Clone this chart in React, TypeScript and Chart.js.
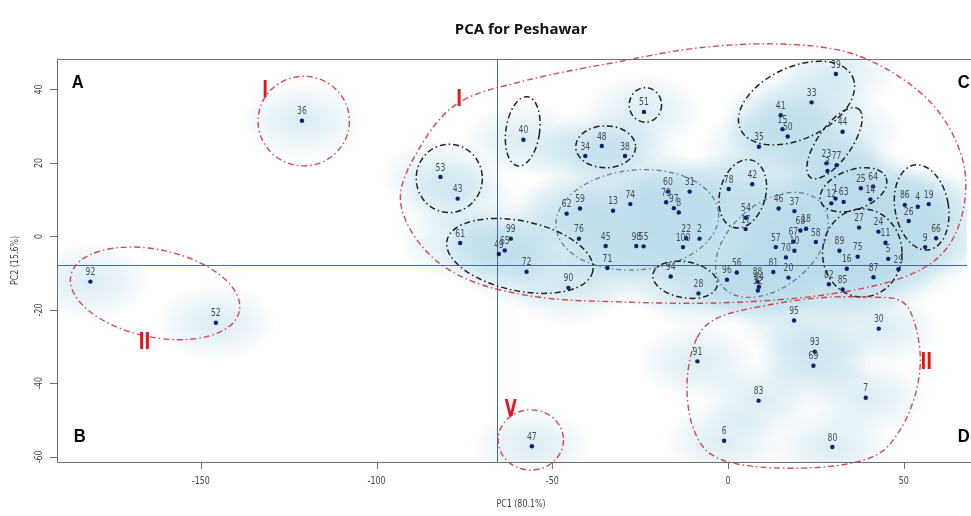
import { useEffect, useRef } from 'react';
import { Chart, registerables } from 'chart.js';

Chart.register(...registerables);

// ---------- data ----------
const sampleIds = ['36','92','52','40','51','48','34','38','53','43','62','59','13','74','60','79','97','8','31','76','45','98','55','71','22','2','100','90','94','28','61','99','65','49','72','39','33','41','15','50','35','44','23','77','3','78','42','54','17','46','37','68','18','57','70','67','10','58','81','20','56','96','88','84','32','89','75','16','82','85','87','5','11','29','9','66','86','4','19','26','24','27','25','64','14','12','1','63','95','30','91','93','69','83','7','47','6','80'];
const pc1 = [-121.2,-181.4,-145.7,-58.2,-23.9,-35.9,-40.6,-29.3,-81.8,-76.9,-45.9,-42.1,-32.7,-27.8,-17.1,-17.6,-15.4,-14.0,-10.9,-42.4,-34.8,-26.1,-24.0,-34.3,-11.9,-8.1,-12.8,-45.4,-16.3,-8.4,-76.2,-61.8,-63.5,-65.2,-57.3,30.7,23.8,15.0,15.5,17.0,8.8,32.6,28.0,30.9,28.3,0.2,6.9,5.1,5.0,14.4,18.9,20.6,22.2,13.6,16.5,18.6,18.9,25.0,12.9,17.2,2.5,-0.3,8.4,8.8,8.5,31.7,36.9,33.8,28.7,32.6,41.4,45.6,44.8,48.5,56.1,59.2,50.3,54.0,57.1,51.4,42.8,37.3,37.8,41.3,40.5,29.4,30.6,32.9,18.8,42.9,-8.7,24.7,24.3,8.7,39.2,-55.8,-1.1,29.7];
const pc2 = [31.5,-12.3,-23.5,26.3,33.9,24.6,21.9,21.9,16.2,10.3,6.2,7.6,7.0,8.8,12.2,9.3,7.7,6.5,12.2,-0.6,-2.6,-2.6,-2.7,-8.6,-0.5,-0.6,-2.9,-14.0,-10.9,-15.5,-1.8,-0.6,-3.8,-4.8,-9.6,44.2,36.5,33.0,29.2,27.2,24.4,28.5,19.9,19.4,17.8,12.9,14.2,5.1,2.0,7.6,6.9,1.6,2.1,-2.9,-5.7,-1.4,-3.9,-1.5,-9.7,-11.2,-9.8,-11.8,-12.3,-13.7,-14.7,-3.9,-5.5,-8.8,-13.0,-14.4,-11.1,-6.1,-1.7,-8.9,-2.9,-0.5,8.6,8.1,8.8,4.2,1.3,2.4,13.1,13.6,10.1,9.0,10.3,9.4,-22.9,-25.1,-34.0,-31.4,-35.2,-44.7,-43.9,-57.1,-55.6,-57.3];

const xTicks = [-150, -100, -50, 0, 50];
const yTicks = [-60, -40, -20, 0, 20, 40];
const xLimits = [-190.9, 68];
const yLimits = [-61.4, 48.3];
const pc1Centre = -65.6;
const pc2Centre = -7.9;

const titleText = 'PCA for Peshawar';
const xTitle = 'PC1 (80.1%)';
const yTitle = 'PC2 (15.6%)';

// quadrant letters [text, pc1, pc2]
const quadrantLetters: [string, number, number][] = [
  ['A', -185, 41.8], ['B', -184.4, -54.6], ['C', 67.1, 41.8], ['D', 67.1, -54.6],
];
// cluster numerals [text, pc1, pc2]
const clusterNumerals: [string, number, number][] = [
  ['I', -131.7, 39.6], ['I', -76.5, 37.1], ['II', -166, -29.0], ['V', -61.8, -47.2], ['II', 56.4, -34.4],
];

// ellipses: [pc1 centre, pc2 centre, radius in pc1 units, radius in pc2 units, rotation deg]
const redEllipses: number[][] = [
  [-120.7, 31.4, 13.0, 12.2, 0],
  [-163.0, -15.5, 24.5, 11.9, 12],
  [-56.1, -55.4, 9.3, 8.2, 0],
];
const blackEllipses: number[][] = [
  [-58.4, 28.6, 4.8, 9.5, 8],
  [-23.5, 35.8, 4.6, 4.7, 0],
  [-34.8, 24.4, 8.5, 5.7, 0],
  [-79.3, 15.8, 9.4, 9.3, 0],
  [-59.2, -5.3, 21.2, 9.5, 12],
  [-12.2, -11.8, 9.3, 4.9, 10],
  [4.2, 11.6, 6.5, 9.5, 15],
  [19.5, 36.3, 17.6, 9.8, -25],
  [30.3, 25.4, 11.9, 4.6, -55],
  [35.7, 12.7, 9.9, 5.4, -20],
  [55.1, 7.9, 7.6, 11.7, -10],
  [38.2, -4.5, 11.3, 12.0, 0],
];
const greyEllipses: number[][] = [
  [-25.8, 4.5, 23.2, 13.6, -5],
  [12.5, -2.3, 18.4, 11.4, -40],
];
// free-form cluster outlines (closed smooth curves through these pc1/pc2 points)
const clusterIOutlineX = [-93.2,-88.1,-76.8,-56.9,-31.4,-8.8,13.9,33.7,49.3,60.6,67.1,66.6,60.6,47.9,25.2,-3.1,-31.4,-54.1,-73.9,-86.7];
const clusterIOutlineY = [9.9,23.5,36.3,42.6,47.5,51.3,52.4,50.2,43.1,33.1,19.5,5.9,-5.0,-11.8,-16.2,-18.1,-17.8,-16.5,-11.8,-3.1];
const clusterIIOutlineX = [-8.8,-2.3,11.9,26.1,40.2,49.3,53.0,54.7,53.5,49.3,42.2,28.0,8.2,-4.5,-10.2,-11.6];
const clusterIIOutlineY = [-27.6,-21.9,-18.6,-16.7,-16.5,-17.6,-23.3,-32.8,-42.3,-52.1,-59.5,-62.7,-62.7,-59.5,-51.3,-39.0];

const RED = 'rgba(206,58,66,0.92)';
const BLACK = '#222';
const GREY = 'rgba(95,115,135,0.9)';
const NARROW = '"Liberation Sans Narrow", "DejaVu Sans Condensed", "Liberation Sans", sans-serif';

function drawText(ctx: CanvasRenderingContext2D, text: string, x: number, y: number, font: string, color: string, sx = 1, rot = 0) {
  ctx.save();
  ctx.translate(x, y);
  if (rot) ctx.rotate(rot);
  ctx.scale(sx, 1);
  ctx.font = font;
  ctx.fillStyle = color;
  ctx.textAlign = 'center';
  ctx.textBaseline = 'middle';
  ctx.fillText(text, 0, 0);
  ctx.restore();
}

const decor = {
  id: 'pcaDecor',
  beforeDatasetsDraw(chart: any) {
    const { ctx, chartArea: a, scales } = chart;
    const sx = scales.x, sy = scales.y;
    const ux = sx.getPixelForValue(1) - sx.getPixelForValue(0);
    const uy = sy.getPixelForValue(0) - sy.getPixelForValue(1);
    ctx.save();
    ctx.beginPath();
    ctx.rect(a.left, a.top, a.right - a.left, a.bottom - a.top);
    ctx.clip();
    // density glow
    for (let i = 0; i < pc1.length; i++) {
      const px = sx.getPixelForValue(pc1[i]);
      const py = sy.getPixelForValue(pc2[i]);
      ctx.save();
      ctx.translate(px, py);
      ctx.scale(1.6, 1);
      const r = 38;
      const g = ctx.createRadialGradient(0, 0, 0, 0, 0, r);
      g.addColorStop(0, 'rgba(184,218,233,0.5)');
      g.addColorStop(0.55, 'rgba(184,218,233,0.3)');
      g.addColorStop(1, 'rgba(184,218,233,0)');
      ctx.fillStyle = g;
      ctx.fillRect(-r, -r, 2 * r, 2 * r);
      ctx.restore();
    }
    // centre lines
    ctx.strokeStyle = 'rgba(60,100,150,0.95)';
    ctx.lineWidth = 1;
    const cx = Math.round(sx.getPixelForValue(pc1Centre)) + 0.5;
    const cy = Math.round(sy.getPixelForValue(pc2Centre)) + 0.5;
    ctx.beginPath();
    ctx.moveTo(cx, a.top); ctx.lineTo(cx, a.bottom);
    ctx.moveTo(a.left, cy); ctx.lineTo(a.right, cy);
    ctx.stroke();
    ctx.restore();

    // outlines (not clipped)
    ctx.save();
    const ell = (list: number[][], color: string, w: number, dash: number[]) => {
      ctx.strokeStyle = color;
      ctx.lineWidth = w;
      ctx.setLineDash(dash);
      for (const e of list) {
        ctx.beginPath();
        ctx.ellipse(sx.getPixelForValue(e[0]), sy.getPixelForValue(e[1]), e[2] * ux, e[3] * uy, (e[4] * Math.PI) / 180, 0, Math.PI * 2);
        ctx.stroke();
      }
    };
    const blob = (xs: number[], ys: number[]) => {
      const pts = xs.map((v, i) => [sx.getPixelForValue(v), sy.getPixelForValue(ys[i])]);
      const n = pts.length;
      ctx.beginPath();
      ctx.moveTo(pts[0][0], pts[0][1]);
      for (let i = 0; i < n; i++) {
        const p0 = pts[(i - 1 + n) % n], p1 = pts[i], p2 = pts[(i + 1) % n], p3 = pts[(i + 2) % n];
        ctx.bezierCurveTo(p1[0] + (p2[0] - p0[0]) / 6, p1[1] + (p2[1] - p0[1]) / 6, p2[0] - (p3[0] - p1[0]) / 6, p2[1] - (p3[1] - p1[1]) / 6, p2[0], p2[1]);
      }
      ctx.closePath();
      ctx.stroke();
    };
    ell(greyEllipses, GREY, 1.3, [5, 3, 1.5, 3]);
    ell(blackEllipses, BLACK, 1.5, [6, 3, 1.5, 3]);
    ell(redEllipses, RED, 1.4, [6, 3, 1.5, 3]);
    ctx.strokeStyle = RED;
    ctx.lineWidth = 1.4;
    ctx.setLineDash([6, 3, 1.5, 3]);
    blob(clusterIOutlineX, clusterIOutlineY);
    blob(clusterIIOutlineX, clusterIIOutlineY);
    ctx.restore();
  },
  afterDatasetsDraw(chart: any) {
    const { ctx, chartArea: a, scales } = chart;
    const sx = scales.x, sy = scales.y;
    // point labels
    for (let i = 0; i < pc1.length; i++) {
      const px = sx.getPixelForValue(pc1[i]);
      const py = sy.getPixelForValue(pc2[i]);
      drawText(ctx, sampleIds[i], px, py - 9, `10px ${NARROW}`, '#454b56', 0.85);
    }
    // numerals
    for (const [t, x, y] of clusterNumerals) {
      drawText(ctx, t, sx.getPixelForValue(x), sy.getPixelForValue(y), `bold 23px ${NARROW}`, '#e3161b', 0.75);
    }
    for (const [t, x, y] of quadrantLetters) {
      drawText(ctx, t, sx.getPixelForValue(x), sy.getPixelForValue(y), 'bold 18px "Liberation Sans", Arial, sans-serif', '#000', 0.92);
    }
    // box
    ctx.save();
    ctx.strokeStyle = '#707070';
    ctx.lineWidth = 1;
    ctx.beginPath();
    ctx.moveTo(a.left + 0.5, a.bottom + 0.5);
    ctx.lineTo(a.left + 0.5, a.top + 0.5);
    ctx.lineTo(a.right + 5, a.top + 0.5);
    ctx.moveTo(a.left + 0.5, a.bottom + 0.5);
    ctx.lineTo(a.right + 5, a.bottom + 0.5);
    // ticks
    for (const t of xTicks) {
      const px = Math.round(sx.getPixelForValue(t)) + 0.5;
      ctx.moveTo(px, a.bottom); ctx.lineTo(px, a.bottom + 7);
    }
    for (const t of yTicks) {
      const py = Math.round(sy.getPixelForValue(t)) + 0.5;
      ctx.moveTo(a.left, py); ctx.lineTo(a.left - 7, py);
    }
    ctx.stroke();
    ctx.restore();
    for (const t of xTicks) {
      drawText(ctx, String(t), sx.getPixelForValue(t), a.bottom + 19, `11px ${NARROW}`, '#444', 0.8);
    }
    for (const t of yTicks) {
      drawText(ctx, String(t), a.left - 18, sy.getPixelForValue(t), `11px ${NARROW}`, '#444', 0.8, -Math.PI / 2);
    }
    drawText(ctx, xTitle, (a.left + 985) / 2, a.bottom + 42, `11px ${NARROW}`, '#444', 0.8);
    drawText(ctx, yTitle, 15, (a.top + a.bottom) / 2, `11px ${NARROW}`, '#444', 0.8, -Math.PI / 2);
    drawText(ctx, titleText, (a.left + 985) / 2, 30, 'bold 15px "Open Sans", "Noto Sans", sans-serif', '#111', 1);
  },
};

export default function App() {
  const ref = useRef<HTMLCanvasElement>(null);
  useEffect(() => {
    if (!ref.current) return;
    const chart = new Chart(ref.current, {
      type: 'scatter',
      data: {
        datasets: [
          {
            label: 'samples',
            data: pc1.map((v, i) => ({ x: v, y: pc2[i] })),
            pointRadius: 2.2,
            pointBackgroundColor: '#0d1f6e',
            pointBorderWidth: 0,
          },
        ],
      },
      options: {
        responsive: false,
        animation: false,
        layout: { padding: { left: 57, top: 59, right: 0, bottom: 54 } },
        plugins: { legend: { display: false }, tooltip: { enabled: false }, title: { display: false } },
        scales: {
          x: { type: 'linear', min: xLimits[0], max: xLimits[1], display: false },
          y: { type: 'linear', min: yLimits[0], max: yLimits[1], display: false },
        },
      },
      plugins: [decor],
    });
    return () => chart.destroy();
  }, []);
  return (
    <div style={{ position: 'fixed', left: 0, top: 0, width: 971, height: 516, background: '#fff', overflow: 'hidden' }}>
      <canvas ref={ref} width={971} height={516} style={{ display: 'block' }} />
    </div>
  );
}
